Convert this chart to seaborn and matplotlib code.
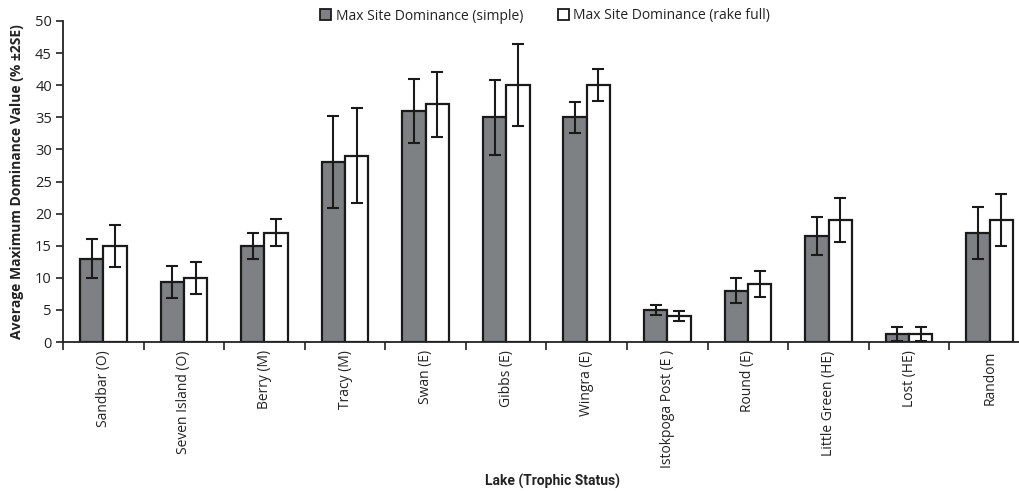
import matplotlib
matplotlib.use("Agg")
import matplotlib.pyplot as plt
import seaborn as sns
import pandas as pd
import numpy as np
from matplotlib.patches import Patch

lakes = ["Sandbar (O)", "Seven Island (O)", "Berry (M)", "Tracy (M)", "Swan (E)", "Gibbs (E)",
         "Wingra (E)", "Istokpoga Post (E )", "Round (E)", "Little Green (HE)", "Lost (HE)", "Random"]
simple = [13, 9.3, 15, 28, 36, 35, 35, 5, 8, 16.5, 1.3, 17]
simple_err = [3.1, 2.5, 2.0, 7.2, 5.0, 5.8, 2.4, 0.8, 2.0, 3.0, 1.1, 4.0]
rake = [15, 10, 17, 29, 37, 40, 40, 4, 9, 19, 1.3, 19]
rake_err = [3.3, 2.5, 2.1, 7.4, 5.0, 6.4, 2.5, 0.8, 2.0, 3.4, 1.1, 4.0]
series = ["Max Site Dominance (simple)", "Max Site Dominance (rake full)"]

df = pd.DataFrame({
    "Lake": lakes * 2,
    "Value": simple + rake,
    "Series": [series[0]] * len(lakes) + [series[1]] * len(lakes),
})

sns.set_theme(style="white")
plt.rcParams["font.family"] = ["Open Sans", "DejaVu Sans"]

fig = plt.figure(figsize=(10.2, 4.91), dpi=100)
ax = fig.add_axes([63 / 1020, 1 - 342 / 491, (1030 - 63) / 1020, (342 - 21) / 491])

palette = {series[0]: "#7f8083", series[1]: "#ffffff"}
sns.barplot(data=df, x="Lake", y="Value", hue="Series", palette=palette, order=lakes,
            hue_order=series, width=0.58, errorbar=None, edgecolor="#1a1a1a",
            linewidth=1.6, ax=ax, legend=False, saturation=1)

errs = [simple_err, rake_err]
vals = [simple, rake]
for cont, e, v in zip(ax.containers, errs, vals):
    xs = [p.get_x() + p.get_width() / 2 for p in cont.patches]
    ax.errorbar(xs, v, yerr=e, fmt="none", ecolor="#1a1a1a", elinewidth=1.5,
                capsize=4, capthick=1.5, zorder=5)

ax.set_xlim(-0.5, len(lakes) - 0.5)
ax.set_ylim(0, 50)
ax.set_yticks(np.arange(0, 51, 5))
ax.set_yticklabels([str(t) for t in range(0, 51, 5)], fontsize=10.5, color="#222222")
ax.set_xticks(np.arange(len(lakes)))
ax.set_xticklabels(lakes, rotation=90, fontsize=10, color="#222222")
ax.tick_params(axis="x", length=0, pad=6)
ax.tick_params(axis="y", length=5, width=1.2, color="#222222", left=True, direction="out", pad=3)
ax.set_xticks(np.arange(-0.5, len(lakes) + 0.5, 1), minor=True)
ax.tick_params(axis="x", which="minor", length=6, width=1.2, color="#222222", bottom=True, direction="out")

for s in ["top", "right"]:
    ax.spines[s].set_visible(False)
for s in ["left", "bottom"]:
    ax.spines[s].set_color("#222222")
    ax.spines[s].set_linewidth(1.3)

ax.set_xlabel("")
ax.set_ylabel("Average Maximum Dominance Value (% \u00b12SE)", fontsize=10, fontweight="bold",
              color="#222222", labelpad=8)
fig.text(553 / 1020, 1 - 481 / 491, "Lake (Trophic Status)", ha="center", va="center",
         fontsize=10, fontweight="bold", color="#222222", family=["Roboto", "DejaVu Sans"],
         stretch="condensed")

handles = [Patch(facecolor=palette[s], edgecolor="#1a1a1a", linewidth=1.3, label=s) for s in series]
fig.legend(handles=handles, loc="center", bbox_to_anchor=(545 / 1020, 1 - 16 / 491), ncol=2,
           frameon=False, fontsize=10, handlelength=0.8, handleheight=0.8, handletextpad=0.3,
           columnspacing=2.5, labelcolor="#222222")

fig.savefig("out.png", dpi=100)
